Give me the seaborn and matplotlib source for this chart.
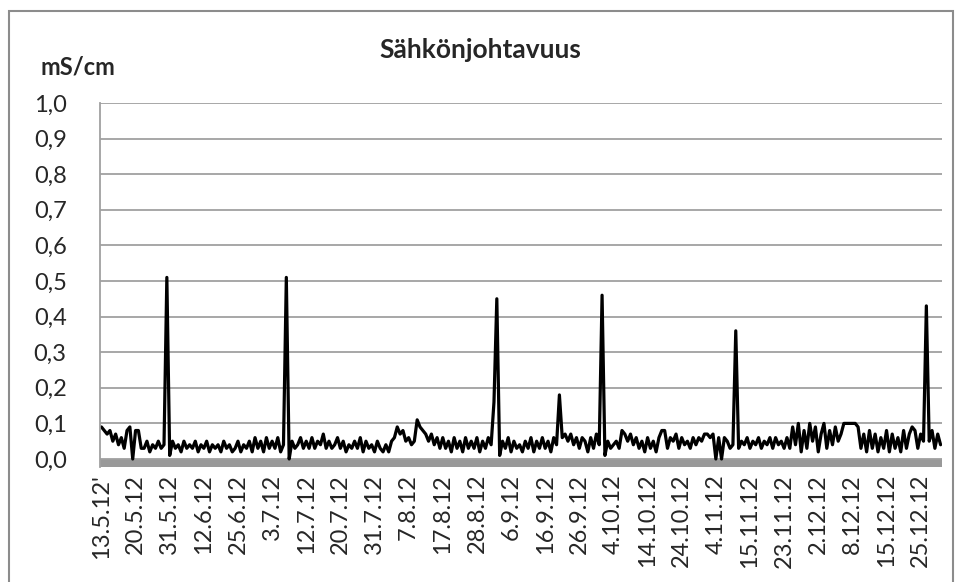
import numpy as np
import matplotlib
matplotlib.use("Agg")
import matplotlib.pyplot as plt
from matplotlib.patches import Rectangle
import seaborn as sns

# Sähkönjohtavuus (mS/cm), luettu kuvasta
sahkonjohtavuus = [
    0.09, 0.08, 0.07, 0.08, 0.05, 0.07, 0.04, 0.06, 0.03, 0.08, 0.09, 0.00, 0.08, 0.08, 0.03, 0.03, 0.05, 0.02, 0.04, 0.03,
    0.05, 0.03, 0.04, 0.51, 0.01, 0.05, 0.03, 0.04, 0.02, 0.05, 0.03, 0.04, 0.03, 0.05, 0.02, 0.04, 0.03, 0.05, 0.02, 0.04,
    0.03, 0.04, 0.02, 0.05, 0.03, 0.04, 0.02, 0.03, 0.05, 0.02, 0.04, 0.03, 0.05, 0.02, 0.06, 0.03, 0.05, 0.02, 0.06, 0.03,
    0.05, 0.03, 0.06, 0.02, 0.04, 0.51, 0.00, 0.05, 0.03, 0.04, 0.06, 0.03, 0.05, 0.03, 0.06, 0.03, 0.05, 0.04, 0.07, 0.03,
    0.05, 0.03, 0.04, 0.06, 0.03, 0.05, 0.02, 0.04, 0.03, 0.05, 0.03, 0.06, 0.02, 0.05, 0.03, 0.04, 0.02, 0.05, 0.03, 0.02,
    0.04, 0.02, 0.05, 0.06, 0.09, 0.07, 0.08, 0.05, 0.06, 0.04, 0.05, 0.11, 0.09, 0.08, 0.07, 0.05, 0.07, 0.04, 0.06, 0.03,
    0.06, 0.03, 0.05, 0.02, 0.06, 0.03, 0.05, 0.02, 0.06, 0.03, 0.05, 0.03, 0.06, 0.02, 0.05, 0.03, 0.06, 0.04, 0.16, 0.45,
    0.01, 0.05, 0.03, 0.06, 0.02, 0.05, 0.03, 0.04, 0.02, 0.05, 0.03, 0.06, 0.02, 0.05, 0.03, 0.06, 0.03, 0.05, 0.02, 0.06,
    0.04, 0.18, 0.06, 0.07, 0.05, 0.07, 0.04, 0.06, 0.03, 0.06, 0.05, 0.02, 0.06, 0.03, 0.07, 0.04, 0.46, 0.01, 0.05, 0.03,
    0.04, 0.05, 0.03, 0.08, 0.07, 0.05, 0.07, 0.04, 0.06, 0.03, 0.05, 0.02, 0.06, 0.03, 0.05, 0.02, 0.06, 0.08, 0.08, 0.03,
    0.06, 0.05, 0.07, 0.03, 0.06, 0.04, 0.05, 0.03, 0.06, 0.04, 0.06, 0.05, 0.07, 0.07, 0.06, 0.07, 0.00, 0.06, 0.00, 0.06,
    0.05, 0.03, 0.04, 0.36, 0.03, 0.05, 0.04, 0.06, 0.03, 0.05, 0.04, 0.06, 0.03, 0.05, 0.04, 0.06, 0.03, 0.06, 0.04, 0.05,
    0.03, 0.06, 0.03, 0.09, 0.04, 0.10, 0.02, 0.08, 0.03, 0.10, 0.05, 0.09, 0.02, 0.07, 0.10, 0.03, 0.08, 0.04, 0.09, 0.05,
    0.07, 0.10, 0.10, 0.10, 0.10, 0.10, 0.09, 0.03, 0.07, 0.02, 0.08, 0.03, 0.07, 0.02, 0.06, 0.03, 0.08, 0.02, 0.07, 0.03,
    0.06, 0.02, 0.08, 0.03, 0.07, 0.09, 0.08, 0.03, 0.07, 0.05, 0.43, 0.05, 0.08, 0.03, 0.07, 0.04,
]

paivamaarat = ["13.5.12'", "20.5.12", "31.5.12", "12.6.12", "25.6.12", "3.7.12", "12.7.12",
               "20.7.12", "31.7.12", "7.8.12", "17.8.12", "28.8.12", "6.9.12", "16.9.12",
               "26.9.12", "4.10.12", "14.10.12", "24.10.12", "4.11.12", "15.11.12",
               "23.11.12", "2.12.12", "8.12.12", "15.12.12", "25.12.12"]
label_step = 12

sns.set_style("white")
plt.rcParams['font.family'] = ['Lato', 'DejaVu Sans']

fig = plt.figure(figsize=(9.57, 5.82), dpi=100)
ax = fig.add_axes([100 / 957, 1 - 467 / 582, 842 / 957, 364 / 582])

x = np.arange(len(sahkonjohtavuus))
sns.lineplot(x=x, y=sahkonjohtavuus, color='black', linewidth=2.3, ax=ax)

floor = -0.0225
ax.set_ylim(floor, 1.0)
ax.set_xlim(-0.5, len(sahkonjohtavuus) - 0.5)
ax.axhspan(floor, 0, color='#999999', zorder=0, lw=0)

yt = np.round(np.arange(0, 1.01, 0.1), 1)
ax.set_yticks(yt)
ax.set_yticklabels([f"{v:.1f}".replace('.', ',') for v in yt], fontsize=17)
ax.yaxis.grid(True, color='#a0a0a0', linewidth=1.3)
ax.set_axisbelow(True)

ax.set_xticks(x[::label_step])
ax.set_xticklabels(paivamaarat, rotation=90, fontsize=17)
ax.tick_params(axis='x', length=0, pad=5)
ax.tick_params(axis='y', length=9, width=1.3, color='#a0a0a0', pad=15, direction='out')

for s in ['top', 'right', 'bottom']:
    ax.spines[s].set_visible(False)
ax.spines['left'].set_color('#a0a0a0')
ax.spines['left'].set_linewidth(1.3)

fig.text(0.502, 1 - 50 / 582, "Sähkönjohtavuus", ha='center', va='center',
         fontsize=19, fontweight='bold')
fig.text(40 / 957, 1 - 67 / 582, "mS/cm", ha='left', va='center',
         fontsize=17, fontweight='bold')

fig.patches.append(Rectangle((9 / 957, -0.05), 944 / 957, 1.05 - 11 / 582,
                             transform=fig.transFigure, fill=False,
                             edgecolor='#8c8c8c', linewidth=1.5))

fig.savefig("out.png", dpi=100)
